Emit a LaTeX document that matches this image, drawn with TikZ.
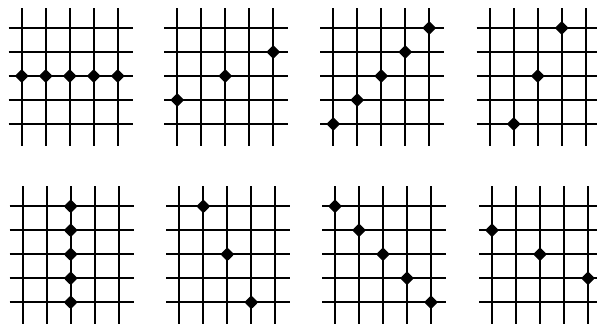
\documentclass[tikz,border=0pt]{standalone}
\usetikzlibrary{shapes.geometric}
% one 5x5 board: name, left x, top y, list of col/row stones
\newcommand{\gridpanel}[4]{%
  \begin{scope}[shift={(#2,#3)}]
    \foreach \k in {0,...,4} {
      \draw[gridline] (\k*24,-20) -- (\k*24,118);
      \draw[gridline] (-13,\k*24) -- (111,\k*24);
    }
    \foreach \c/\r in {#4}
      \node[stone] (#1-\c-\r) at (\c*24,\r*24) {};
  \end{scope}}

\begin{document}
\begin{tikzpicture}[
  x=0.03cm, y=-0.03cm,
  gridline/.style={line width=1.5pt, black},
  stone/.style={diamond, fill=black, inner sep=0pt, minimum size=0.42cm, rounded corners=1.2pt},
]
\useasboundingbox (0,0) rectangle (597,323);
\clip (0,0) rectangle (597,323);
% top row
\gridpanel{a}{21.7}{28}{0/2,1/2,2/2,3/2,4/2}
\gridpanel{b}{177.3}{28}{0/3,2/2,4/1}
\gridpanel{c}{333.3}{28}{0/4,1/3,2/2,3/1,4/0}
\gridpanel{d}{489.7}{28}{1/4,2/2,3/0}
% bottom row
\gridpanel{e}{22.7}{206.3}{2/0,2/1,2/2,2/3,2/4}
\gridpanel{f}{179.3}{206.3}{1/0,2/2,3/4}
\gridpanel{g}{335}{206.3}{0/0,1/1,2/2,3/3,4/4}
\gridpanel{h}{492}{206.3}{0/1,2/2,4/3}
\end{tikzpicture}
\end{document}
